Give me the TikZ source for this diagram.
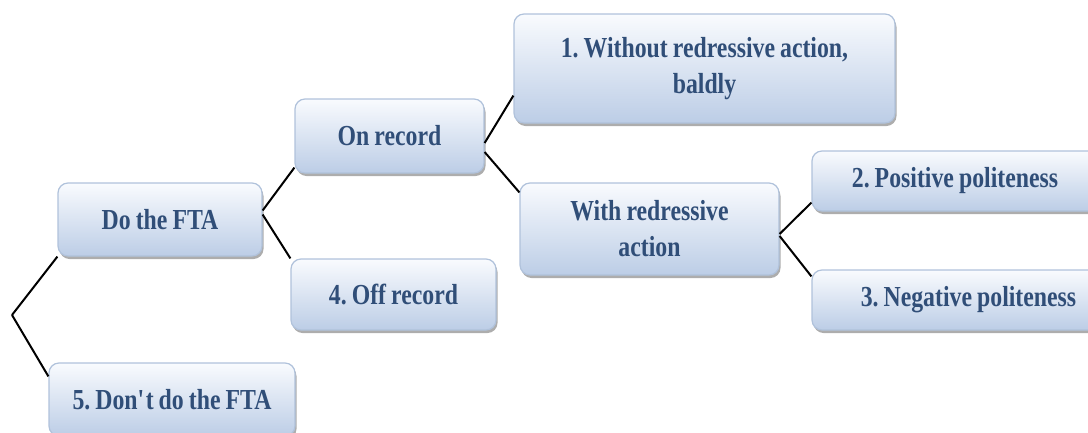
\documentclass[tikz,border=0pt]{standalone}
\usepackage{fontspec}
\setmainfont{Liberation Serif}[FakeStretch=0.82, WordSpace=0.85]
\usepackage{tikz}
\usetikzlibrary{shadows}
\definecolor{boxtext}{RGB}{48,78,120}
\definecolor{boxtop}{RGB}{249,251,254}
\definecolor{boxbottom}{RGB}{188,205,230}
\definecolor{boxline}{RGB}{176,194,219}
\frenchspacing

\begin{document}
\begin{tikzpicture}[x=1pt, y=-1pt,
    box/.style={draw=boxline, line width=1.2pt, rounded corners=10pt, top color=boxtop, bottom color=boxbottom, text=boxtext, font=\fontsize{29}{36}\selectfont\bfseries, align=center, inner sep=0pt, drop shadow={shadow xshift=1.5pt, shadow yshift=-3pt, fill=gray!80, opacity=0.8}},
    link/.style={line width=2pt}]
    \useasboundingbox (0,0) rectangle (1088,432);
    \clip (0,0) rectangle (1088,432);

    \node[box, minimum width=204pt, minimum height=73pt] (fta) at (160,219.5) {Do the FTA};
    \node[box, minimum width=246pt, minimum height=73pt] (dont) at (172,399.5) {5. Don\textquotesingle t do the FTA};
    \node[box, minimum width=189pt, minimum height=74pt] (onrec) at (389.5,136) {On record};
    \node[box, minimum width=205pt, minimum height=71pt] (offrec) at (393.5,294.5) {4. Off record};
    \node[box, minimum width=381pt, minimum height=109pt] (without) at (704.5,68.5) {1. Without redressive action,\\ baldly};
    \node[box, minimum width=259pt, minimum height=92pt] (withred) at (649.5,229) {With redressive\\ action};
    \node[box, minimum width=286pt, minimum height=60pt] (pos) at (955,181) {2. Positive politeness};
    \node[box, minimum width=313pt, minimum height=60pt] (neg) at (968.5,300) {3. Negative politeness};

    \coordinate (root) at (12,315);

    \draw[link] (root) -- (fta.south west);
    \draw[link] (root) -- ([yshift=-14pt]dont.north west);
    \draw[link] ([yshift=9pt]fta.east) -- ([yshift=6pt]onrec.south west);
    \draw[link] ([yshift=5pt]fta.east) -- (offrec.north west);
    \draw[link] ([yshift=-7pt]onrec.east) -- ([yshift=28pt]without.south west);
    \draw[link] ([yshift=-16pt]onrec.east) -- ([yshift=-10pt]withred.north west);
    \draw[link] ([yshift=-5pt]withred.east) -- ([yshift=9pt]pos.south west);
    \draw[link] ([yshift=-7pt]withred.east) -- ([yshift=-7pt]neg.north west);
\end{tikzpicture}
\end{document}
